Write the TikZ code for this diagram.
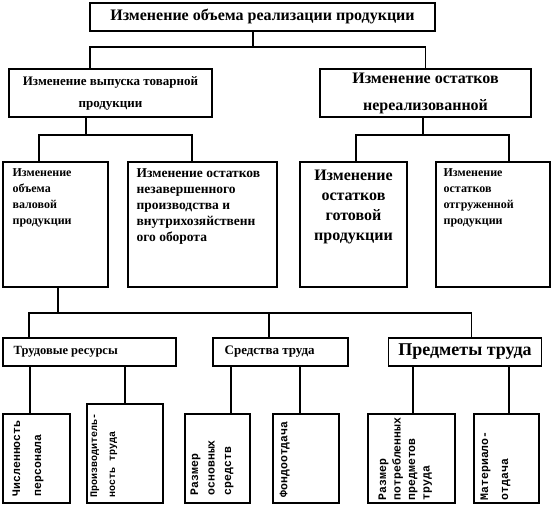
\documentclass[tikz,border=0pt]{standalone}
\usepackage{fontspec}
\setmainfont{Liberation Serif}
\setmonofont{Liberation Mono}
\usepackage{tikz}

\begin{document}
\begin{tikzpicture}[x=1pt, y=-1pt,
    blk/.style 2 args={draw, line width=1.1pt, inner sep=0pt, minimum width=#1, minimum height=#2},
    ln/.style={line width=1.1pt},
    txt/.style={inner sep=0pt, align=left, font=\fontsize{12}{16}\selectfont\bfseries},
    vtxt/.style={rotate=90, anchor=north west, inner sep=0pt, align=left, font=\fontsize{11.5}{#1}\selectfont\ttfamily\bfseries}]%
          \useasboundingbox (0,0) rectangle (554,513);%
          % top
          \node [blk={345pt}{28pt}, font=\fontsize{16}{18}\selectfont\bfseries] (real) at (262.5,17) {Изменение объема реализации продукции};%
          % second row
          \node [blk={203pt}{48pt}, align=center, font=\fontsize{13}{22}\selectfont\bfseries] (vyp) at (110.5,93) {Изменение выпуска товарной\\продукции};%
          \node [blk={211pt}{48pt}, align=center, font=\fontsize{16}{27}\selectfont\bfseries] (ost) at (425.5,93) {Изменение остатков\\нереализованной};%
          % third row
          \node [blk={105pt}{125pt}] (val) at (55.5,224.5) {};%
          \node [txt, anchor=north west] (valt) at ([xshift=10pt,yshift=-7pt]val.north west) {Изменение\\объема\\валовой\\продукции};%
          \node [blk={149pt}{125pt}] (nzp) at (202.5,224.5) {};%
          \node [txt, anchor=north west, font=\fontsize{13.5}{16}\selectfont\bfseries] (nzpt) at ([xshift=9pt,yshift=-7pt]nzp.north west) {Изменение остатков\\незавершенного\\производства и\\внутрихозяйственн\\ого оборота};%
          \node [blk={107pt}{125pt}] (gp) at (353.5,224.5) {};%
          \node [txt, anchor=north, align=center, font=\fontsize{16}{20}\selectfont\bfseries] (gpt) at ([yshift=-8pt]gp.north) {Изменение\\остатков\\готовой\\продукции};%
          \node [blk={114pt}{125pt}] (otg) at (493,224.5) {};%
          \node [txt, anchor=north west] (otgt) at ([xshift=8pt,yshift=-7pt]otg.north west) {Изменение\\остатков\\отгруженной\\продукции};%
          % fourth row
          \node [blk={173pt}{28pt}] (trres) at (89.5,352) {};%
          \node [txt, anchor=west, font=\fontsize{12.5}{16}\selectfont\bfseries] (trrest) at ([xshift=11pt]trres.west) {Трудовые ресурсы};%
          \node [blk={135pt}{28pt}] (sredtr) at (280.5,352) {};%
          \node [txt, anchor=west, font=\fontsize{13}{16}\selectfont\bfseries] (sredtrt) at ([xshift=12pt]sredtr.west) {Средства труда};%
          \node [blk={153pt}{28pt}, font=\fontsize{18}{20}\selectfont\bfseries] (predtr) at (465,352) {Предметы труда};%
          % fifth row
          \node [blk={67pt}{89pt}] (chisl) at (36.5,458.5) {};%
          \node [vtxt=21] (chislt) at ([xshift=10pt,yshift=7pt]chisl.south west) {Численность\\персонала};%
          \node [blk={76pt}{99pt}] (proizv) at (125,453.5) {};%
          \node [vtxt=18, font=\fontsize{10}{18}\selectfont\ttfamily\bfseries] (proizvt) at ([xshift=4pt,yshift=6pt]proizv.south west) {Производитель-\\ность труда};%
          \node [blk={65pt}{89pt}] (razmos) at (217.5,458.5) {};%
          \node [vtxt=16.5] (razmost) at ([xshift=6pt,yshift=8pt]razmos.south west) {Размер\\основных\\средств};%
          \node [blk={66pt}{89pt}] (fo) at (306,458.5) {};%
          \node [vtxt=16] (fot) at ([xshift=7pt,yshift=6pt]fo.south west) {Фондоотдача};%
          \node [blk={87pt}{89pt}] (razmpr) at (411.5,458.5) {};%
          \node [vtxt=14.5] (razmprt) at ([xshift=11pt,yshift=3pt]razmpr.south west) {Размер\\потребленных\\предметов\\труда};%
          \node [blk={65pt}{89pt}] (mo) at (506.5,458.5) {};%
          \node [vtxt=20] (mot) at ([xshift=7pt,yshift=3pt]mo.south west) {Материало-\\отдача};%
          % connectors
          \coordinate (j1) at (253,47);%
          \draw [ln] (real.south -| j1) to (j1);%
          \draw [ln] ([xshift=-20.5pt]vyp.north) |- (j1) -| (ost.north);%
          \coordinate (j2) at (86,135);%
          \draw [ln] (vyp.south -| j2) to (j2);%
          \draw [ln] ([xshift=-16.5pt]val.north) |- (j2) -| ([xshift=-10.5pt]nzp.north);%
          \coordinate (j3) at (423,135);%
          \draw [ln] (ost.south -| j3) to (j3);%
          \draw [ln] ([xshift=2.5pt]gp.north) |- (j3) -| ([xshift=16pt]otg.north);%
          \coordinate (j4) at (58,313);%
          \coordinate (j5) at (269,313);%
          \draw [ln] (val.south -| j4) to (j4);%
          \draw [ln] ([xshift=-60.5pt]trres.north) |- (j4) -| ([xshift=6.5pt]predtr.north);%
          \draw [ln] (sredtr.north -| j5) to (j5);%
          \coordinate (k1) at (30,0);%
          \coordinate (k2) at (125,0);%
          \coordinate (k3) at (231,0);%
          \coordinate (k4) at (300,0);%
          \coordinate (k5) at (413,0);%
          \coordinate (k6) at (509,0);%
          \draw [ln] (trres.south -| k1) to (chisl.north -| k1);%
          \draw [ln] (trres.south -| k2) to (proizv.north -| k2);%
          \draw [ln] (sredtr.south -| k3) to (razmos.north -| k3);%
          \draw [ln] (sredtr.south -| k4) to (fo.north -| k4);%
          \draw [ln] (predtr.south -| k5) to (razmpr.north -| k5);%
          \draw [ln] (predtr.south -| k6) to (mo.north -| k6);%
        \end{tikzpicture}
\end{document}
